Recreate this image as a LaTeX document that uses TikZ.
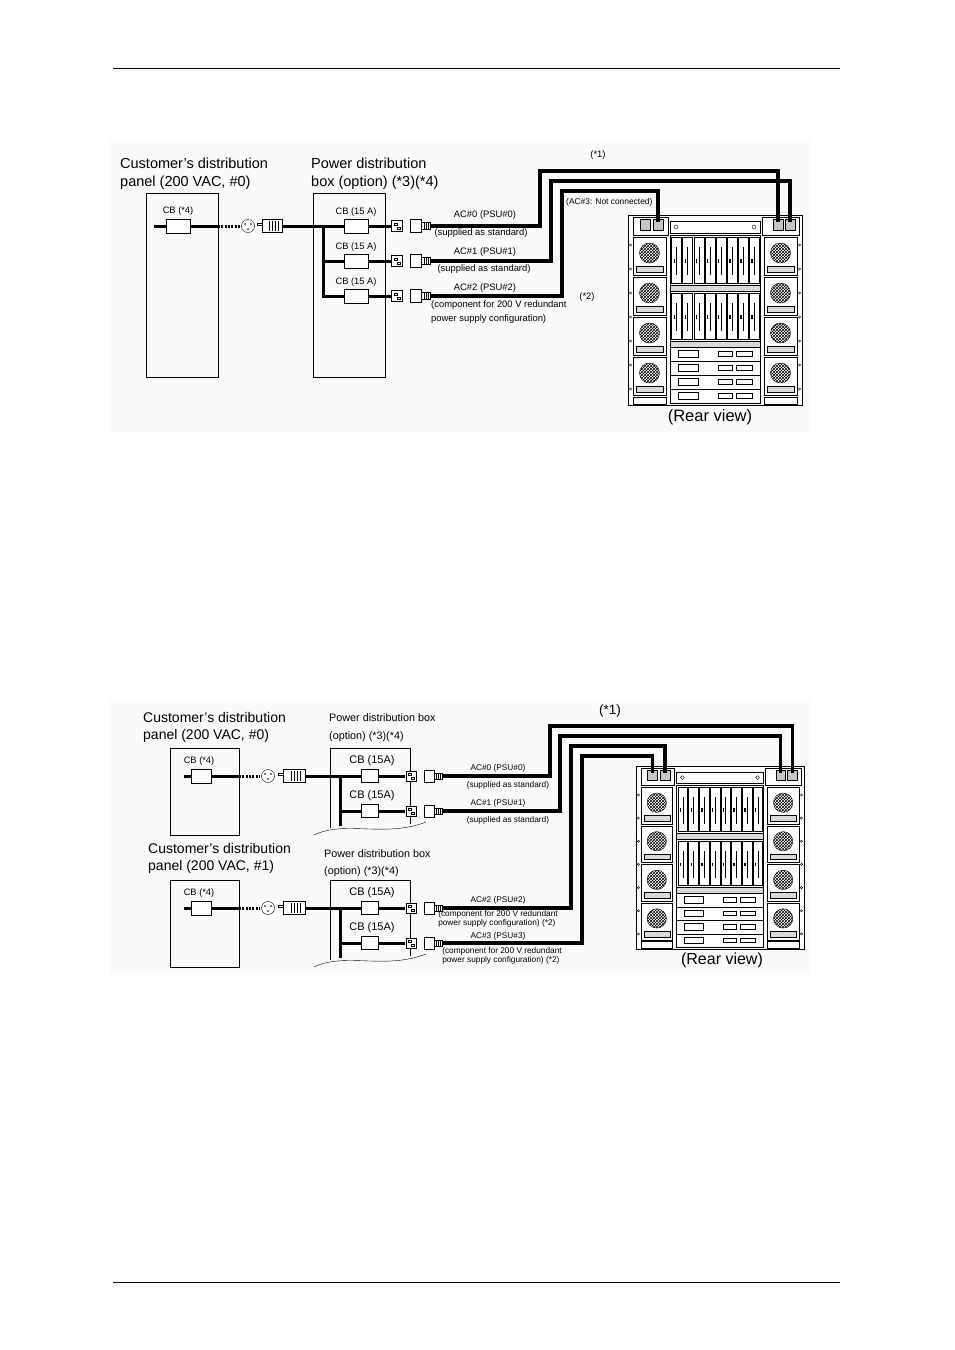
\documentclass[tikz,border=0pt]{standalone}
\usepackage{fontspec}
\setmainfont{Liberation Sans}
\usetikzlibrary{patterns}

\tikzset{
    panelbox/.style={draw, line width=0.4pt, inner sep=0pt},
    cbbox/.style={draw, fill=white, line width=0.4pt, minimum width=24pt, minimum height=14pt, inner sep=0pt},
    powerline/.style={line width=3pt},
    cable/.style={line width=3.2pt},
    lbl/.style={font=\fontsize{9.3}{10}\selectfont, inner sep=0pt},
    note/.style={font=\fontsize{9.4}{11}\selectfont, inner sep=0pt, align=center},
    title/.style={font=\fontsize{14.5}{17.5}\selectfont, inner sep=0pt, align=left, anchor=north west},
    outlet/.style={draw, circle, fill=white, minimum size=13pt, inner sep=0pt, line width=0.4pt},
    plugbox/.style={draw, fill=white, minimum width=20pt, minimum height=13pt, inner sep=0pt, line width=0.5pt},
    socket/.style={draw, fill=white, minimum size=11pt, inner sep=0pt, line width=0.4pt},
    cordplug/.style={draw, fill=white, minimum width=11pt, minimum height=13pt, inner sep=0pt, line width=0.4pt},
}

% rear view of the cabinet: name, x, y, scale
\newcommand\rearview[4]{%
\begin{scope}[shift={(#2,#3)}, scale=#4, line width=0.4pt]
    \draw[fill=white] (0,0) rectangle (174,190);
    \draw (5,2) rectangle (40,20);
    \draw (134,2) rectangle (171,20);
    \foreach \cx/\cn in {17/a,30/b,150/c,162/d} {
        \draw[fill=gray!45] (\cx-5,4) rectangle (\cx+5,15);
        \coordinate (#1\cn) at (\cx,7);
    }
    \draw (42,6) rectangle (132,18);
    \draw (48,12) circle (2) (126,12) circle (2);
    % card cages
    \foreach \yy in {20,76} {
        \draw (42,\yy) rectangle (132,\yy+50);
        \foreach \i in {0,...,7} {
            \draw (43.5+\i*11.1,\yy+2) rectangle ++(10,46);
            \draw (48.5+\i*11.1,\yy+12) -- ++(0,28);
            \fill (45.5+\i*11.1,\yy+24) rectangle ++(1.5,4);
        }
        \draw[fill=gray!30] (42,\yy+50) rectangle (132,\yy+56);
    }
    % I/O modules
    \foreach \k in {0,...,3} {
        \draw (42,132+\k*14) rectangle (132,146+\k*14);
        \draw (50,135+\k*14) rectangle (70,142+\k*14);
        \draw (90,136+\k*14) rectangle (104,141+\k*14);
        \draw (108,136+\k*14) rectangle (124,141+\k*14);
    }
    % fans and power supplies
    \foreach \xx in {5,136} {
        \foreach \k in {0,...,3} {
            \draw (\xx,22+\k*40) rectangle (\xx+33,60+\k*40);
            \draw[pattern=crosshatch] (\xx+16.5,38+\k*40) circle (10);
            \draw[fill=gray!30] (\xx+3,51+\k*40) rectangle (\xx+30,57+\k*40);
        }
        \draw (\xx,182) rectangle (\xx+33,189);
    }
    \foreach \k in {0,...,6} {
        \draw (2.5,30+\k*24) circle (1.2) (171.5,30+\k*24) circle (1.2);
    }
\end{scope}}

% outlet pins and plug ribs
\newcommand\outletpins[1]{%
    \fill (#1) ++(-3,-2) circle (0.9) ++(6,0) circle (0.9) ++(-3,5) circle (0.9);}
\newcommand\plugribs[1]{%
    \foreach \dx in {-3,0,3,6} {\draw[line width=0.6pt] (#1) ++(\dx,-5) -- ++(0,10);}
    \draw[line width=0.4pt] (#1.west) ++(-5,-3) rectangle ++(5,2);}

\begin{document}
\begin{tikzpicture}[x=1pt, y=-1pt]
\useasboundingbox (0,0) rectangle (954,1350);
\draw[line width=0.8pt] (113,68) -- (840,68);
\draw[line width=0.8pt] (113,1282) -- (840,1282);

%%% upper diagram
\fill[gray!4] (110,140) rectangle (810,432);
\node[title] (tpan0) at (120,158) {Customer's distribution\\panel (200 VAC, \#0)};
\node[title] (tpdb0) at (311,158) {Power distribution\\box (option) (*3)(*4)};
\node[panelbox, minimum width=72pt, minimum height=184pt] (pan0) at (182,285) {};
\node[panelbox, minimum width=72pt, minimum height=184pt] (pdb0) at (349,285) {};

\node[lbl] at (178,211) {CB (*4)};
\node[cbbox] (cb0) at (178,226) {};
\draw[powerline] (154,226) -- (cb0.west) (cb0.east) -- (218,226);
\draw[powerline, dash pattern=on 2pt off 1.3pt] (218,226) -- (240,226);
\node[outlet] (out0) at (248,226) {};
\outletpins{out0}
\node[plugbox] (plg0) at (272,226) {};
\plugribs{plg0}
\draw[powerline] (plg0.east) -- (393,226);
\draw[powerline] (323,226) -- (323,296) -- (393,296) (323,261) -- (393,261);

\foreach \n/\yy in {0/226,1/261,2/296} {
    \node[lbl] at (356,\yy-14) {CB (15 A)};
    \node[cbbox] (cbp\n) at (356,\yy) {};
    \node[socket] (so\n) at (397,\yy) {};
    \draw[line width=0.3pt] (so\n) ++(-3,-3) rectangle ++(3,2) (so\n) ++(0,1) rectangle ++(3,2);
    \node[cordplug] (cp\n) at (416,\yy) {};
    \node[draw, fill=white, minimum width=9pt, minimum height=7pt, inner sep=0pt] (cpb\n) at (426,\yy) {};
    \foreach \dx in {-2,0,2} {\draw[line width=0.5pt] (cpb\n) ++(\dx,-3.5) -- ++(0,7);}
}
\rearview{A}{628}{215}{1}
\draw[cable] (cpb0.east) -| (540,171) -| (Ac);
\draw[cable] (cpb1.east) -| (551,181) -| (Ad);
\draw[cable] (cpb2.east) -| (562,191) -| (Ab);

\node[note] at (485,215) {AC\#0 (PSU\#0)};
\node[note] at (481,233) {(supplied as standard)};
\node[note] at (485,252) {AC\#1 (PSU\#1)};
\node[note] at (484,269) {(supplied as standard)};
\node[note] at (485,288) {AC\#2 (PSU\#2)};
\node[note, align=left, anchor=north west, font=\fontsize{9.4}{14}\selectfont] at (431,300) {(component for 200 V redundant\\power supply configuration)};
\node[note] at (587,297) {(*2)};
\node[note] at (598,155) {(*1)};
\node[note, anchor=west, font=\fontsize{8.4}{10}\selectfont] at (566,202) {(AC\#3: Not connected)};
\node[font=\fontsize{16.5}{18}\selectfont, inner sep=0pt] at (710,417) {(Rear view)};

%%% lower diagram
\fill[gray!4] (110,700) rectangle (810,975);
\node[title, font=\fontsize{14}{17.5}\selectfont] (tpan1) at (143,712) {Customer's distribution\\panel (200 VAC, \#0)};
\node[title, font=\fontsize{14}{17.5}\selectfont] (tpan2) at (148,843) {Customer's distribution\\panel (200 VAC, \#1)};
\node[title, font=\fontsize{10.8}{18}\selectfont] (tpdb1) at (329,713) {Power distribution box\\(option) (*3)(*4)};
\node[title, font=\fontsize{10.8}{17}\selectfont] (tpdb2) at (324,849) {Power distribution box\\(option) (*3)(*4)};

\foreach \p/\yy in {1/748,2/880} {
    \node[panelbox, minimum width=69pt, minimum height=87pt, anchor=north west] (pan\p) at (170,\yy) {};
    \node[lbl] at (199,\yy+13) {CB (*4)};
    \node[cbbox, minimum width=20pt] (cbq\p) at (201,\yy+28) {};
    \draw[powerline] (184,\yy+28) -- (cbq\p.west) (cbq\p.east) -- (239,\yy+28);
    \draw[powerline, dash pattern=on 2pt off 1.3pt] (239,\yy+28) -- (260,\yy+28);
    \node[outlet] (outq\p) at (268,\yy+28) {};
    \outletpins{outq\p}
    \node[plugbox, minimum width=22pt] (plgq\p) at (294,\yy+28) {};
    \plugribs{plgq\p}
    \draw[powerline] (plgq\p.east) -- (405,\yy+28);
    \draw[powerline] (340,\yy+28) -- (340,\yy+78) (340,\yy+63) -- (405,\yy+63);
    % box cut off by a wavy line
    \draw[line width=0.4pt] (330,\yy+80) -- (330,\yy) -- (410,\yy) -- (410,\yy+76);
    \draw[line width=0.4pt] (314,\yy+87) .. controls (345,\yy+72) and (385,\yy+90) .. (426,\yy+74);
    \foreach \yo in {28,63} {
        \node[font=\fontsize{11}{12}\selectfont, inner sep=0pt] at (372,\yy+\yo-15) {CB (15A)};
        \node[cbbox, minimum width=17pt, minimum height=13pt] (cbr\p\yo) at (370,\yy+\yo) {};
        \node[socket, minimum size=10pt] (sor\p\yo) at (411,\yy+\yo) {};
        \draw[line width=0.3pt] (sor\p\yo) ++(-3,-3) rectangle ++(3,2) (sor\p\yo) ++(0,1) rectangle ++(3,2);
        \node[cordplug, minimum width=10pt, minimum height=12pt] (cpr\p\yo) at (429,\yy+\yo) {};
        \node[draw, fill=white, minimum width=8pt, minimum height=6pt, inner sep=0pt] (cpd\p\yo) at (438,\yy+\yo) {};
        \foreach \dx in {-2,0,2} {\draw[line width=0.5pt] (cpd\p\yo) ++(\dx,-3) -- ++(0,6);}
    }
}
\rearview{B}{636}{766}{0.965}
\draw[cable] (cpd128.east) -| (550,726) -| (Bd);
\draw[cable] (cpd163.east) -| (560,736) -| (Bc);
\draw[cable] (cpd228.east) -| (571,746) -| (Bb);
\draw[cable] (cpd263.east) -| (582,756) -| (Ba);

\begin{scope}[every node/.style={note, font=\fontsize{8.3}{9}\selectfont}]
    \node at (498,768) {AC\#0 (PSU\#0)};
    \node at (508,785) {(supplied as standard)};
    \node at (498,803) {AC\#1 (PSU\#1)};
    \node at (508,820) {(supplied as standard)};
    \node at (498,900) {AC\#2 (PSU\#2)};
    \node[align=left] at (498,919) {(component for 200 V redundant\\power supply configuration) (*2)};
    \node at (498,936) {AC\#3 (PSU\#3)};
    \node[align=left] at (502,956) {(component for 200 V redundant\\power supply configuration) (*2)};
\end{scope}
\node[font=\fontsize{13.5}{15}\selectfont, inner sep=0pt] at (610,711) {(*1)};
\node[font=\fontsize{16}{18}\selectfont, inner sep=0pt] at (722,960) {(Rear view)};
\end{tikzpicture}
\end{document}
